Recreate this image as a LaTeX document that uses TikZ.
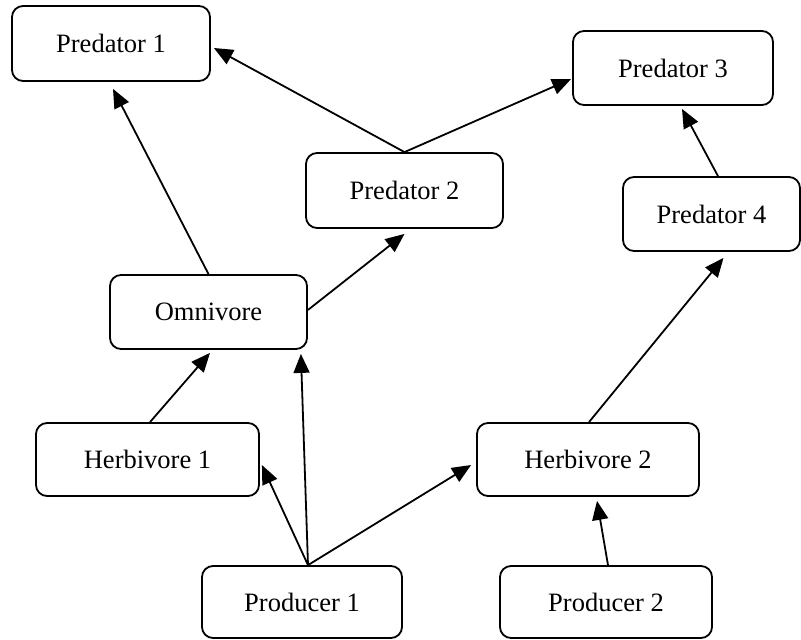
\documentclass[tikz,border=0pt]{standalone}
\usepackage{fontspec}
\setmainfont{Liberation Serif}
\usetikzlibrary{arrows.meta,calc}
\begin{document}
\begin{tikzpicture}[x=1pt,y=-1pt,
  box/.style={draw,line width=1.8pt,rounded corners=11pt,inner sep=0pt,
    font=\fontsize{26.5}{30}\selectfont},
  arr/.style={line width=1.8pt,-{Triangle[length=19pt,width=16pt]}}]
\useasboundingbox (0,0) rectangle (801,640);
\node[box,minimum width=198pt,minimum height=75pt] (p1) at (111,43.5) {Predator 1};
\node[box,minimum width=197pt,minimum height=75pt] (p2) at (404.5,190.5) {Predator 2};
\node[box,minimum width=200pt,minimum height=74pt] (p3) at (673,68) {Predator 3};
\node[box,minimum width=177pt,minimum height=74pt] (p4) at (711.5,214) {Predator 4};
\node[box,minimum width=197pt,minimum height=74pt] (om) at (208.5,312) {Omnivore};
\node[box,minimum width=223pt,minimum height=73pt] (h1) at (147.5,459.5) {Herbivore 1};
\node[box,minimum width=222pt,minimum height=73pt] (h2) at (588,459.5) {Herbivore 2};
\node[box,minimum width=200pt,minimum height=72pt] (pr1) at (302,602) {Producer 1};
\node[box,minimum width=212pt,minimum height=72pt] (pr2) at (606,602) {Producer 2};
\draw[arr] (om.north) -- ($(p1.south)+(2,7)$);
\draw[arr] (p2.north) -- ($(p1.east)+(3,4.5)$);
\draw[arr] (p2.north) -- ($(p3.west)+(-1,11)$);
\draw[arr] ($(om.east)+(0,-2)$) -- ($(p2.south)+(0,5)$);
\draw[arr] ($(p4.north)+(6.5,0)$) -- ($(p3.south)+(9,3)$);
\draw[arr] ($(h2.north)+(1,0)$) -- ($(p4.south)+(12,6)$);
\draw[arr] ($(h1.north)+(2.5,0)$) -- ($(om.south)+(1.5,3)$);
\draw[arr] ($(pr1.north)+(6,0)$) -- ($(om.south east)+(-7,4)$);
\draw[arr] ($(pr1.north)+(6,0)$) -- ($(h1.east)+(2,5.5)$);
\draw[arr] ($(pr1.north)+(6,0)$) -- ($(h2.west)+(-5,5.5)$);
\draw[arr] ($(pr2.north)+(2,0)$) -- ($(h2.south)+(9,4)$);
\end{tikzpicture}
\end{document}
